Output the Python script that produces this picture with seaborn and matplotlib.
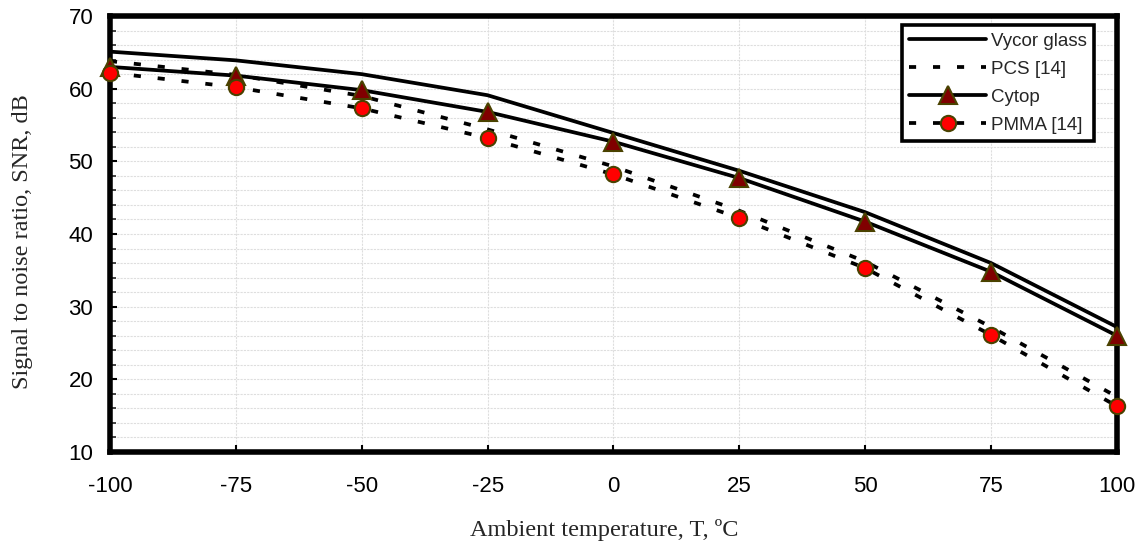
import numpy as np
import pandas as pd
import matplotlib
matplotlib.use("Agg")
import matplotlib.pyplot as plt
from matplotlib.ticker import MultipleLocator
import seaborn as sns

# ---- data ----
temps = [-100, -75, -50, -25, 0, 25, 50, 75, 100]
vycor = [65.1, 63.9, 62.0, 59.1, 53.9, 48.7, 43.0, 36.0, 27.2]
pcs = [63.8, 61.9, 59.0, 54.4, 49.3, 43.2, 36.2, 27.2, 17.6]
cytop = [63.0, 61.8, 59.8, 56.8, 52.7, 47.7, 41.7, 34.8, 26.0]
pmma = [62.2, 60.2, 57.3, 53.2, 48.2, 42.2, 35.3, 26.1, 16.3]
series_names = ["Vycor glass", "PCS [14]", "Cytop", "PMMA [14]"]
x_ticks = [-100, -75, -50, -25, 0, 25, 50, 75, 100]
y_ticks = [10, 20, 30, 40, 50, 60, 70]

sns.set_style("white")
plt.rcParams["font.family"] = ["Liberation Sans", "DejaVu Sans"]

fig = plt.figure(figsize=(11.43, 5.47), dpi=100)
ax = fig.add_axes([0.0962, 0.1737, 0.8810, 0.7970])

lw = 2.7
dash = (1.9, 4.5)
styles = {
    "Vycor glass": dict(linestyle="-", marker=None),
    "PCS [14]": dict(linestyle=(0, dash), marker=None),
    "Cytop": dict(linestyle="-", marker="^", ms=12.5, mfc="#800000", mec="#4a4200"),
    "PMMA [14]": dict(linestyle=(0, dash), marker="o", ms=11, mfc="#ff0000", mec="#4a4200"),
}
values = {"Vycor glass": vycor, "PCS [14]": pcs, "Cytop": cytop, "PMMA [14]": pmma}

for name in series_names:
    df = pd.DataFrame({"T": temps, "SNR": values[name]})
    st = styles[name]
    kw = dict(color="black", linewidth=lw, linestyle=st["linestyle"])
    if st["marker"]:
        kw.update(marker=st["marker"], markersize=st["ms"], markerfacecolor=st["mfc"],
                  markeredgecolor=st["mec"], markeredgewidth=1.5)
    sns.lineplot(data=df, x="T", y="SNR", ax=ax, label=name, sort=False,
                 clip_on=False, zorder=3, **kw)

ax.set_xlim(-100, 100)
ax.set_ylim(10, 70)
ax.set_xticks(x_ticks)
ax.set_yticks(y_ticks)
ax.set_xticklabels([str(t) for t in x_ticks])
ax.set_yticklabels([str(t) for t in y_ticks])
ax.yaxis.set_minor_locator(MultipleLocator(2))

ax.grid(True, which="major", axis="x", color="#dedede", lw=0.8, linestyle=(0, (2, 1)))
ax.grid(True, which="both", axis="y", color="#dedede", lw=0.8, linestyle=(0, (2, 1)))
ax.set_axisbelow(True)

for sp in ax.spines.values():
    sp.set_visible(True)
    sp.set_color("black")
    sp.set_linewidth(4.0)

ax.tick_params(axis="both", which="major", direction="in", length=5, width=1.5,
               labelsize=16, colors="black")
ax.tick_params(axis="x", which="major", pad=17, bottom=True, top=False)
ax.tick_params(axis="y", which="major", pad=12, left=True, right=False)
ax.tick_params(axis="y", which="minor", direction="in", length=4, width=1.2, left=True, right=False)

serif = ["Liberation Serif", "DejaVu Serif"]
ax.set_xlabel("Ambient temperature, T, ºC", family=serif, fontsize=17.5)
ax.set_ylabel("Signal to noise ratio, SNR, dB", family=serif, fontsize=17.5)
ax.xaxis.set_label_coords(0.491, -0.1537)
ax.yaxis.set_label_coords(-0.0765, 0.482)

leg = ax.legend(loc="upper right", bbox_to_anchor=(0.9775, 0.979), borderaxespad=0,
                frameon=True, fancybox=False, fontsize=13.5, handlelength=4.1,
                handletextpad=0.25, labelspacing=0.58, borderpad=0.4)
leg.get_frame().set_edgecolor("black")
leg.get_frame().set_linewidth(2.6)
leg.get_frame().set_facecolor("white")
leg.get_frame().set_alpha(1)

fig.savefig("out.png", dpi=100)
